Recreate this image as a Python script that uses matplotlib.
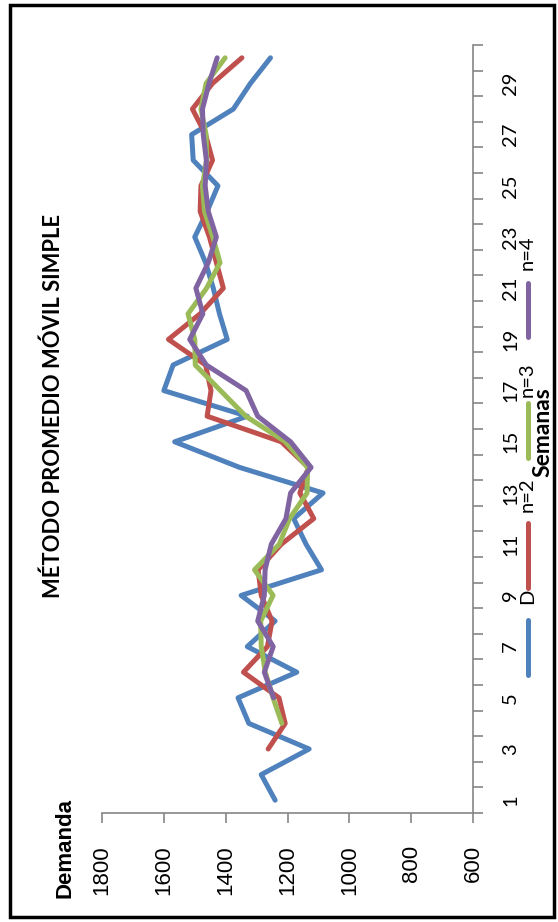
import matplotlib
matplotlib.use("Agg")
import matplotlib.pyplot as plt
from matplotlib.lines import Line2D
from matplotlib.patches import Rectangle

W, H = 558, 922

# Datos (semana -> demanda)
semanas = list(range(1, 31))
demanda = [1240, 1285, 1130, 1325, 1360, 1170, 1330, 1240, 1350, 1090,
           1140, 1180, 1085, 1355, 1565, 1330, 1600, 1570, 1395, 1420,
           1440, 1465, 1500, 1460, 1425, 1505, 1510, 1375, 1320, 1255]
# promedios moviles (desde la semana 3, 4 y 5)
n2 = [1262.5, 1207.5, 1227.5, 1342.5, 1265.0, 1250.0, 1285.0, 1295.0,
      1220.0, 1115.0, 1160.0, 1132.5, 1220.0, 1460.0, 1447.5, 1465.0,
      1585.0, 1482.5, 1407.5, 1430.0, 1452.5, 1482.5, 1480.0, 1442.5,
      1465.0, 1507.5, 1442.5, 1347.5]
n3 = [1218.3, 1246.7, 1271.7, 1285.0, 1286.7, 1246.7, 1306.7, 1226.7,
      1193.3, 1136.7, 1135.0, 1206.7, 1335.0, 1416.7, 1498.3, 1500.0,
      1521.7, 1461.7, 1418.3, 1441.7, 1468.3, 1475.0, 1461.7, 1463.3,
      1480.0, 1463.3, 1401.7]
n4 = [1245.0, 1275.0, 1246.3, 1296.3, 1275.0, 1272.5, 1252.5, 1205.0,
      1190.0, 1123.8, 1190.0, 1296.3, 1333.8, 1462.5, 1516.3, 1473.8,
      1496.3, 1456.3, 1430.0, 1456.3, 1466.3, 1462.5, 1472.5, 1475.0,
      1453.8, 1427.5]
series = [("D", demanda, semanas, "#4F81BD"),
          ("n=2", n2, semanas[2:], "#C0504D"),
          ("n=3", n3, semanas[3:], "#9BBB59"),
          ("n=4", n4, semanas[4:], "#8064A2")]

ticks_demanda = [600, 800, 1000, 1200, 1400, 1600, 1800]
etiquetas_semana = list(range(1, 30, 2))

GRIS = "#868686"


def fx(px):
    return px / W


def fy(py):
    return 1 - py / H


fig = plt.figure(figsize=(W / 100, H / 100), dpi=100)

# grafico girado: demanda en horizontal, semanas en vertical
ax = fig.add_axes([fx(102), fy(813), (473 - 102) / W, (813 - 45) / H])
for nombre, valores, sem, color in series:
    ax.plot(valores, sem, color=color, lw=3.6,
            solid_capstyle="round", solid_joinstyle="round")

ax.set_xlim(1800, 600)
ax.set_ylim(0.5, 30.5)

for lado in ("left", "top"):
    ax.spines[lado].set_visible(False)
for lado in ("bottom", "right"):
    ax.spines[lado].set_color(GRIS)
    ax.spines[lado].set_linewidth(1.2)

ax.set_xticks(ticks_demanda)
ax.set_xticklabels([str(v) for v in ticks_demanda], rotation=90,
                   fontfamily="Liberation Sans", fontsize=16)
ax.tick_params(axis="x", direction="out", length=7, width=1.2,
               color=GRIS, pad=16)

ax.yaxis.tick_right()
ax.set_yticks([s - 0.5 for s in semanas] + [30.5])
ax.set_yticklabels([])
ax.set_yticks(etiquetas_semana, [str(s) for s in etiquetas_semana], minor=True)
ax.tick_params(axis="y", which="major", direction="out", length=7,
               width=1.2, color=GRIS)
ax.tick_params(axis="y", which="minor", length=0, pad=21, labelsize=14.5)
for lab in ax.get_yticklabels(minor=True):
    lab.set_rotation(90)
    lab.set_va("center")
    lab.set_fontfamily("Lato")

# titulos
fig.text(fx(53), fy(406), "MÉTODO PROMEDIO MÓVIL SIMPLE", rotation=90,
         ha="center", va="center", fontfamily="Lato", fontweight="bold",
         fontsize=15.8)
fig.text(fx(65), fy(848), "Demanda", rotation=90, ha="center", va="center",
         fontfamily="Liberation Sans", fontweight="bold", fontsize=16)
fig.text(fx(543), fy(432), "Semanas", rotation=90, ha="center",
         va="center", fontfamily="Lato", fontweight="bold", fontsize=16.5)

# leyenda manual (girada)
leyenda = [(675, 620, 596), (588, 523, 495), (458, 403, 380), (337, 283, 253)]
for (nombre, _, _, color), (y0, y1, yt) in zip(series, leyenda):
    fig.add_artist(Line2D([fx(528), fx(528)], [fy(y0), fy(y1)],
                          transform=fig.transFigure, color=color, lw=3.6,
                          solid_capstyle="round"))
    fig.text(fx(527.5), fy(yt), nombre, rotation=90, ha="center", va="center",
             fontfamily="Lato", fontsize=14.5)

fig.add_artist(Rectangle((fx(10), fy(917)), fx(554) - fx(10),
                         fy(5) - fy(917), transform=fig.transFigure,
                         fill=False, ec="black", lw=2.5))

fig.savefig("out.png", dpi=100)
